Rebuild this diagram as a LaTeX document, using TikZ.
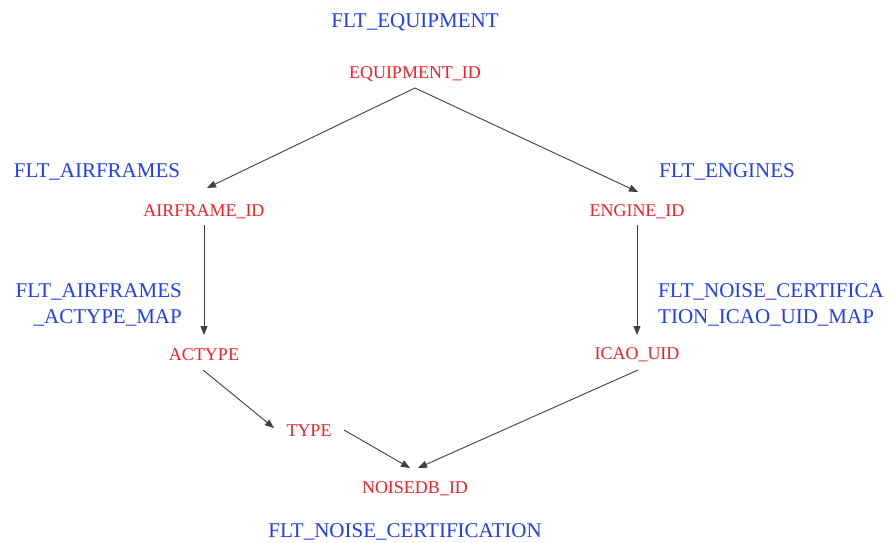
\documentclass[tikz,border=0pt]{standalone}
\usepackage{fontspec}
\setmainfont{Liberation Serif}
\usetikzlibrary{arrows.meta}
\definecolor{fltblue}{RGB}{30,62,252}
\definecolor{fldred}{RGB}{248,30,38}
\tikzset{
  tbl/.style={text=fltblue, font=\fontsize{21}{26}\selectfont, inner sep=0pt},
  fld/.style={text=fldred, font=\fontsize{18}{21}\selectfont, inner sep=0pt},
  link/.style={draw=black!75, line width=0.9pt, -{Triangle[length=9pt,width=7pt]}}
}
\begin{document}
\begin{tikzpicture}[x=1pt,y=1pt]
\useasboundingbox[fill=white] (0,0) rectangle (889,-543);
% table labels
\node[tbl] (teq) at (415,-22) {FLT\_EQUIPMENT};
\node[tbl] (taf) at (97,-172) {FLT\_AIRFRAMES};
\node[tbl] (ten) at (727,-172) {FLT\_ENGINES};
\node[tbl, align=right, anchor=east] (tam) at (182,-305) {FLT\_AIRFRAMES\\\_ACTYPE\_MAP};
\node[tbl, align=left, anchor=west] (tnm) at (658,-305) {FLT\_NOISE\_CERTIFICA\\TION\_ICAO\_UID\_MAP};
\node[tbl] (tnc) at (405,-532) {FLT\_NOISE\_CERTIFICATION};
% field labels
\node[fld] (eq) at (415,-74) {EQUIPMENT\_ID};
\node[fld] (af) at (204,-212) {AIRFRAME\_ID};
\node[fld] (en) at (637,-212) {ENGINE\_ID};
\node[fld] (ac) at (204,-355) {ACTYPE};
\node[fld] (ic) at (637,-355) {ICAO\_UID};
\node[fld] (ty) at (309,-431) {TYPE};
\node[fld] (nd) at (415,-489) {NOISEDB\_ID};
% connectors
\draw[link] ([shift={(0,-14)}]eq.center) -- ([shift={(3,24)}]af.center);
\draw[link] ([shift={(0,-14)}]eq.center) -- ([shift={(1,20)}]en.center);
\draw[link] ([shift={(0,-13)}]af.center) -- ([shift={(0,20)}]ac.center);
\draw[link] ([shift={(0,-13)}]en.center) -- ([shift={(0,20)}]ic.center);
\draw[link] ([shift={(-1,-15)}]ac.center) -- ([shift={(-35,3)}]ty.center);
\draw[link] ([shift={(35,1)}]ty.center) -- ([shift={(-5,21)}]nd.center);
\draw[link] ([shift={(1,-15)}]ic.center) -- ([shift={(3,21)}]nd.center);
\end{tikzpicture}
\end{document}
